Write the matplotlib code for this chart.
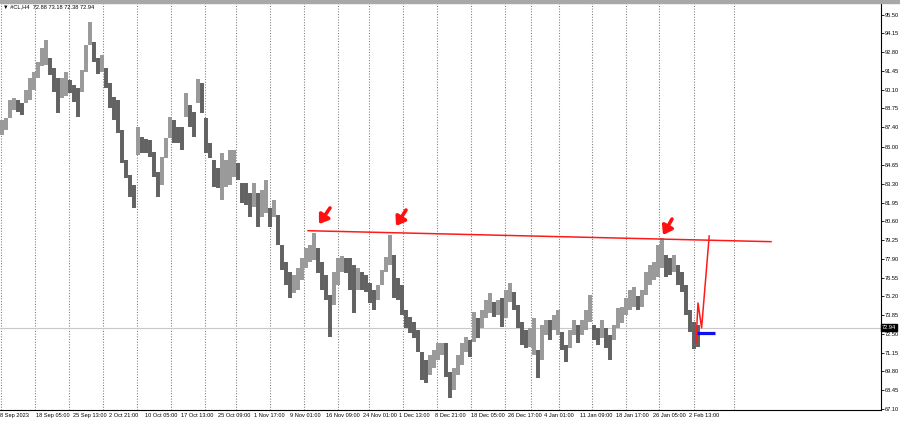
import numpy as np
import matplotlib
matplotlib.use("Agg")
import matplotlib.pyplot as plt
import matplotlib.transforms as mtransforms
from matplotlib.patches import Rectangle

plt.rcParams['font.family'] = ['Liberation Sans', 'DejaVu Sans']

# 4H crude oil bars, grouped in buckets (high / low per bucket)
highs = [87.91, 88.05, 89.35, 89.50, 89.35, 89.14, 90.07, 90.94, 91.37, 92.09,
         93.10, 93.68, 92.38, 91.66, 90.94, 90.94, 91.37, 90.79, 90.43, 90.22,
         91.51, 93.32, 94.97, 93.53, 92.38, 92.60, 91.66, 90.58, 89.57, 89.35,
         87.19, 85.03, 83.95, 83.22, 87.41, 86.68, 86.54, 86.47, 85.60, 84.16,
         85.24, 86.61, 88.13, 87.91, 87.41, 87.41, 89.86, 88.99, 88.49, 90.87,
         90.58, 88.05, 86.25, 85.03, 84.45, 85.53, 85.03, 85.75, 85.75, 84.81,
         83.37, 83.37, 82.65, 83.37, 82.65, 82.86, 83.59, 81.57, 82.14, 81.06,
         78.90, 77.67, 76.95, 76.74, 77.24, 77.96, 78.68, 78.90, 79.76, 78.68,
         77.67, 76.74, 75.30, 76.95, 77.96, 78.11, 77.96, 77.96, 77.46, 77.24,
         76.95, 76.74, 76.16, 75.66, 76.02, 77.10, 78.03, 79.62, 78.18, 76.52,
         76.02, 74.21, 73.71, 73.35, 72.77, 71.19, 70.61, 70.97, 71.33, 71.84,
         71.84, 71.84, 69.74, 70.03, 70.97, 71.84, 72.27, 72.05, 74.07, 73.64,
         74.21, 74.94, 75.44, 74.79, 74.94, 75.08, 75.66, 76.16, 75.51, 74.57,
         73.35, 72.77, 72.92, 73.64, 71.33, 73.13, 73.49, 73.49, 73.85, 74.21,
         72.63, 71.69, 72.77, 73.49, 73.13, 73.49, 74.21, 75.30, 73.13, 72.92,
         73.49, 72.92, 72.41, 73.13, 74.36, 74.43, 75.08, 75.66, 75.87, 75.22,
         75.66, 76.95, 77.46, 77.67, 78.90, 79.40, 78.18, 77.96, 78.18, 77.46,
         76.95, 76.02, 74.21, 73.35, 73.13]
lows = [86.83, 87.19, 88.05, 88.63, 88.49, 88.27, 89.14, 89.35, 90.07, 90.94,
        91.80, 91.87, 91.15, 89.93, 88.41, 89.50, 89.64, 89.86, 89.21, 88.13,
        89.93, 91.37, 93.32, 92.09, 91.23, 91.37, 90.22, 88.78, 87.91, 86.97,
        84.81, 83.73, 82.36, 81.57, 85.39, 85.53, 85.53, 85.24, 83.80, 82.36,
        83.22, 85.17, 86.61, 86.25, 86.25, 85.75, 88.13, 87.41, 86.68, 89.14,
        88.41, 85.53, 85.17, 83.08, 83.01, 82.14, 83.08, 83.22, 83.80, 83.59,
        81.93, 81.78, 80.92, 81.64, 80.20, 80.92, 81.21, 80.20, 80.92, 78.90,
        77.10, 76.02, 75.08, 75.44, 75.66, 76.38, 77.24, 77.67, 77.82, 76.88,
        75.66, 74.94, 72.27, 74.57, 76.02, 76.95, 76.88, 75.66, 74.00, 75.66,
        75.66, 75.51, 74.72, 74.21, 74.94, 76.02, 76.95, 77.46, 75.08, 74.94,
        73.85, 72.92, 72.56, 72.20, 71.19, 69.17, 68.95, 69.53, 70.03, 70.61,
        70.97, 69.39, 67.87, 68.45, 69.53, 70.25, 71.19, 70.83, 71.91, 72.20,
        72.92, 73.64, 74.00, 73.71, 73.85, 72.99, 73.64, 74.79, 74.21, 72.92,
        71.69, 71.48, 71.55, 70.97, 69.31, 70.61, 72.41, 72.05, 72.77, 72.41,
        71.33, 70.47, 71.48, 72.41, 71.84, 72.41, 72.77, 73.35, 72.05, 71.69,
        72.20, 71.48, 70.61, 72.05, 72.92, 73.28, 73.85, 74.21, 74.43, 74.21,
        74.43, 75.30, 76.02, 76.38, 76.59, 77.24, 76.59, 76.74, 76.95, 76.02,
        75.51, 73.85, 72.63, 71.40, 71.55]

last_price = 72.94
header = "\u25bc #CL,H4  72.88 73.18 72.38 72.94"

price_ticks = [95.50, 94.15, 92.80, 91.45, 90.10, 88.75, 87.40, 86.00, 84.65,
               83.30, 81.95, 80.60, 79.25, 77.90, 76.55, 75.20, 73.85, 72.50,
               71.15, 69.80, 68.45, 67.10]
date_labels = ["8 Sep 2023", "18 Sep 05:00", "25 Sep 13:00", "2 Oct 21:00",
               "10 Oct 05:00", "17 Oct 13:00", "25 Oct 09:00", "1 Nov 17:00",
               "9 Nov 01:00", "16 Nov 09:00", "24 Nov 01:00", "1 Dec 13:00",
               "8 Dec 21:00", "18 Dec 05:00", "26 Dec 17:00", "4 Jan 01:00",
               "11 Jan 09:00", "18 Jan 17:00", "26 Jan 05:00", "2 Feb 13:00"]
# period separators (bar position)
separators = [-0.25, 8.25, 16.75, 25.25, 33.75, 42.25, 50.75, 58.5, 67, 75.5,
              84, 91.75, 100.25, 108.75, 117.25, 125.75, 132.25, 139.25, 147.5,
              156, 164.25, 173, 183]

# drawn objects: resistance line, arrows, projected path, entry level
resist_x = [76.5, 192.25]
resist_y = [79.93, 79.14]
arrows = [((82, 81.57), (79.25, 80.41)),
          ((101, 81.42), (98.5, 80.27)),
          ((167.5, 80.77), (165.25, 79.62))]
path_x = [173.5, 174, 174.9, 176.8]
path_y = [71.84, 74.72, 72.92, 79.55]
entry_x = [173.75, 178.25]
entry_y = 72.53

highs = np.array(highs)
lows = np.array(lows)
x = np.arange(len(highs))
mid = (highs + lows) / 2
up = np.r_[True, mid[1:] >= mid[:-1]]
colors = np.where(up, '#9a9a9a', '#626262')

fig = plt.figure(figsize=(9, 4.22), dpi=100)
ax = fig.add_axes([0, 12 / 422, 881 / 900, 407 / 422])
ax.set_xlim(-0.5, 219.75)
ax.set_ylim(67.006, 96.344)

for s in separators:
    ax.axvline(s, color='#7a7a7a', lw=0.75, linestyle=(0, (1, 1.6)), zorder=1)

ax.axhline(last_price, color='#c8c8c8', lw=0.8, zorder=1)

ax.vlines(x, lows, highs, colors=colors, lw=2.85, zorder=2)

ax.plot(resist_x, resist_y, color='#ff1a1a', lw=1.1, zorder=3)
for tail, tip in arrows:
    ax.annotate('', xy=tip, xytext=tail,
                arrowprops=dict(arrowstyle='-|>,head_length=0.5,head_width=0.35',
                                color='#ff1010', lw=2.6, mutation_scale=10,
                                shrinkA=0, shrinkB=0), zorder=4)
ax.plot(path_x, path_y, color='#ff1a1a', lw=1.1, zorder=4)
ax.plot(entry_x, [entry_y, entry_y], color='#1010ee', lw=2.3, zorder=4, solid_capstyle='butt')

# axes styling like the terminal
for side in ['left', 'top']:
    ax.spines[side].set_visible(False)
ax.spines['right'].set_linewidth(0.8)
ax.spines['bottom'].set_linewidth(0.8)
ax.yaxis.tick_right()
ax.set_yticks(price_ticks)
ax.set_yticklabels(['%.2f' % p for p in price_ticks])
ax.tick_params(axis='y', direction='out', length=2, width=0.6, labelsize=4.1, pad=1)

label_x = np.arange(len(date_labels)) * 9.065 - 0.5
ax.set_xticks(label_x)
ax.set_xticklabels(date_labels)
for t in ax.get_xticklabels():
    t.set_horizontalalignment('left')
ax.tick_params(axis='x', direction='out', length=0, labelsize=4.1, pad=2)

trans = mtransforms.blended_transform_factory(ax.transAxes, ax.transData)
ax.text(1.001, last_price, '%.2f' % last_price, transform=trans, fontsize=4.1,
        color='white', va='center', ha='left',
        bbox=dict(boxstyle='square,pad=0.15', fc='black', ec='black'))

# top bar and header
fig.patches.append(Rectangle((0, 1 - 3 / 422), 1, 3 / 422, transform=fig.transFigure,
                             color='#a8a8a8', zorder=0))
fig.text(3 / 900, 1 - 7 / 422, header, fontsize=4.1, va='center', ha='left')

plt.savefig('out.png', dpi=100)
